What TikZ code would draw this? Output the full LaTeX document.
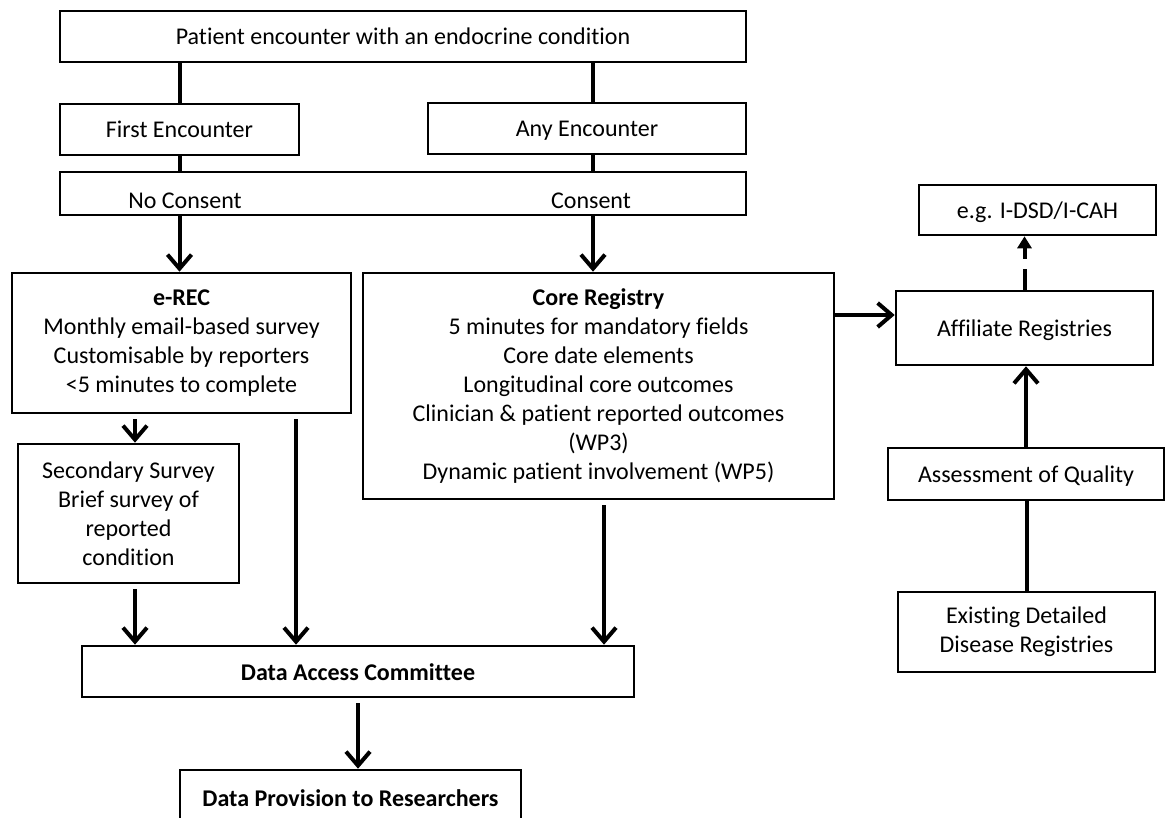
\documentclass[tikz,border=0pt]{standalone}
\usepackage{fontspec}
\setmainfont{Carlito}[Ligatures=NoCommon]
\usetikzlibrary{arrows.meta,positioning,calc}

\begin{document}
\begin{tikzpicture}[
  x=1pt,y=-1pt,
  box/.style={rectangle,draw,line width=2.6pt,align=center,inner sep=2pt,font=\fontsize{24}{29}\selectfont},
  one/.style={text height=20pt,text depth=3pt},
  ln/.style={line width=4pt},
  arr/.style={line width=4pt,-{Straight Barb[length=14pt,width=24pt]}},
  gap/.style={shorten <=5pt},
  lbl/.style={font=\fontsize{24}{29}\selectfont,inner sep=0pt,text height=20pt,text depth=3pt}
]
\clip (0,0) rectangle (1167,818);

% entry and consent
\node[box,one,minimum width=686pt,minimum height=51pt] (top) at (403,36.5) {Patient encounter with an endocrine condition};
\node[box,one,minimum width=239pt,minimum height=51pt] (first) at (179.5,129.5) {First Encounter};
\node[box,one,minimum width=318pt,minimum height=51pt] (any) at (587,128.5) {Any Encounter};
\node[box,minimum width=686pt,minimum height=43pt] (consent) at (403,193.5) {};
\node[lbl] (nocons) at (185,200) {No Consent};
\node[lbl] (cons) at (591,200) {Consent};

% registries
\node[box,minimum width=339pt,minimum height=140pt] (erec) at (181.5,343) {\textbf{e-REC}\\Monthly email-based survey\\Customisable by reporters\\<5 minutes to complete};
\node[box,minimum width=471pt,minimum height=226pt] (core) at (598.5,386) {\textbf{Core Registry}\\5 minutes for mandatory fields\\Core date elements\\Longitudinal core outcomes\\Clinician \& patient reported outcomes\\(WP3)\\Dynamic patient involvement (WP5)};
\node[box,minimum width=221pt,minimum height=139pt] (sec) at (128.5,513.5) {Secondary Survey\\Brief survey of\\reported\\condition};

\node[box,one,minimum width=237pt,minimum height=50pt] (eg) at (1037.5,210) {e.g. I-DSD/I-CAH};
\node[box,one,minimum width=257pt,minimum height=74pt] (affil) at (1024.5,328) {Affiliate Registries};
\node[box,one,minimum width=276pt,minimum height=52pt] (assess) at (1026,474) {Assessment of Quality};
\node[box,minimum width=257pt,minimum height=80pt] (exist) at (1026.5,632) {Existing Detailed\\Disease Registries};

% access
\node[box,one,minimum width=552pt,minimum height=51pt] (dac) at (358,671.5) {\textbf{Data Access Committee}};
\node[box,one,minimum width=341pt,minimum height=56pt] (dp) at (350.5,798) {\textbf{Data Provision to Researchers}};

\coordinate (rcol) at (593,0);
\coordinate (lcol) at (135,0);
\coordinate (mcol) at (296,0);
\coordinate (pcol) at (604,0);
\coordinate (link) at (865,315);

\draw[ln] (first.north) -- (first.north |- top.south);
\draw[ln] (first.south) -- (first.south |- consent.north);
\draw[ln] (top.south -| rcol) -- (any.north -| rcol);
\draw[ln] (any.south -| rcol) -- (consent.north -| rcol);

\draw[arr] (first.south |- consent.south) -- (first.south |- erec.north);
\draw[arr] (consent.south -| rcol) -- (core.north -| rcol);
\draw[arr,gap] (erec.south -| lcol) -- (sec.north -| lcol);
\draw[arr,gap] (erec.south -| mcol) -- (dac.north -| mcol);
\draw[arr,gap] (sec.south -| lcol) -- (dac.north -| lcol);
\draw[arr,gap] (core.south -| pcol) -- (dac.north -| pcol);
\draw[arr,gap] (dac.south) -- (dac.south |- dp.north);

\draw[arr] (core.east |- link) -- (affil.west |- link);
\draw[line width=4pt,dash pattern=on 21pt off 10pt,-{Triangle[length=12pt,width=14pt]}] (affil.north) -- (affil.north |- eg.south);
\draw[arr] (assess.north) -- (assess.north |- affil.south);
\draw[ln] (exist.north) -- (exist.north |- assess.south);
\end{tikzpicture}
\end{document}
